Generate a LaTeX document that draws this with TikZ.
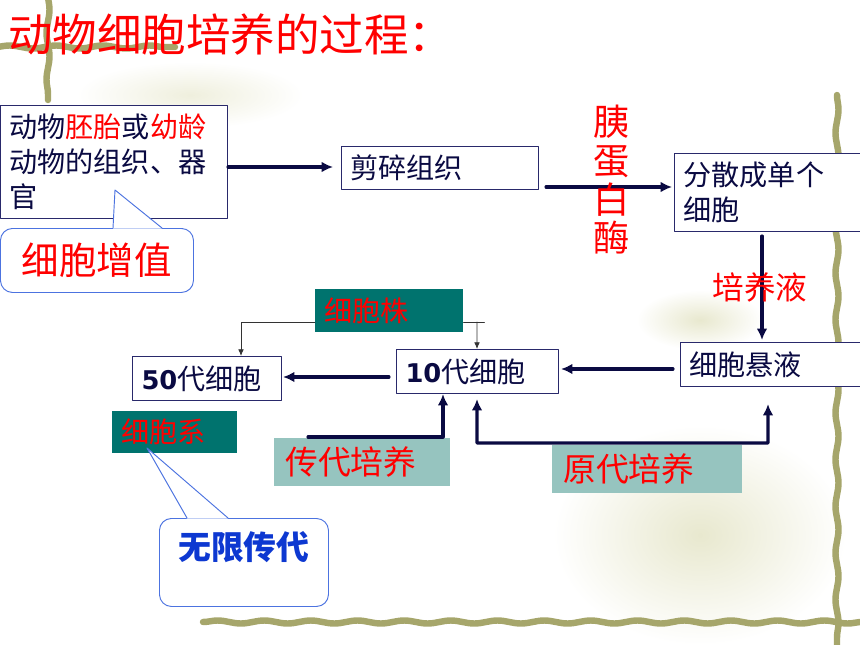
\documentclass[tikz,border=0pt]{standalone}
\usepackage{fontspec}
\newfontfamily\cjk{Noto Sans CJK SC}
\newfontfamily\digits{DejaVu Sans}
\usetikzlibrary{arrows.meta,decorations.pathmorphing}
\definecolor{qqqqtt}{rgb}{0.04,0.04,0.26}
\definecolor{ttttzz}{rgb}{0.16,0.16,0.42}
\definecolor{ffqqqq}{rgb}{1.,0.,0.}
\definecolor{qqttzz}{rgb}{0.,0.45,0.43}
\definecolor{zzccbb}{rgb}{0.59,0.77,0.75}
\definecolor{ttzzff}{rgb}{0.3,0.45,0.88}
\definecolor{qqttee}{rgb}{0.05,0.22,0.82}
\definecolor{zzzztt}{rgb}{0.65,0.65,0.42}
\definecolor{eeeedd}{rgb}{0.91,0.91,0.81}

\begin{document}
\begin{tikzpicture}[line cap=round,line join=round,x=0.03cm,y=-0.03cm,
  stage/.style={draw=ttttzz,line width=0.9pt,fill=white,anchor=north west,inner xsep=0.27cm,inner ysep=0pt,align=left,text=qqqqtt,font=\cjk\fontsize{24}{30}\selectfont},
  tag/.style={fill=qqttzz,anchor=north west,inner xsep=0.27cm,inner ysep=0pt,align=left,text=ffqqqq,font=\cjk\fontsize{24}{30}\selectfont},
  method/.style={fill=zzccbb,anchor=north west,inner xsep=0.33cm,inner ysep=0pt,align=left,text=ffqqqq,font=\cjk\fontsize{28}{34}\selectfont},
  bubble/.style={draw=ttzzff,line width=0.8pt,fill=white,rounded corners=0.36cm,anchor=north west,inner sep=0pt},
  flow/.style={draw=qqqqtt,line width=2.7pt,-{Latex[length=0.34cm,width=0.32cm]}},
  feed/.style={draw=black!80,line width=0.7pt,-{Latex[length=0.2cm,width=0.17cm]}},
  vine/.style={draw=zzzztt,line width=5.5pt,decorate,decoration={snake,amplitude=0.045cm,segment length=1.4cm}}]
\useasboundingbox (0,0) rectangle (860,645);
% background
\shade[inner color=eeeedd,outer color=white] (700,535) ellipse [x radius=4.4cm,y radius=3.3cm];
\shade[inner color=eeeedd,outer color=white] (700,320) ellipse [x radius=1.9cm,y radius=0.9cm];
\shade[inner color=eeeedd!70,outer color=white] (190,95) ellipse [x radius=3.4cm,y radius=1cm];
\draw[vine] (48,-5) -- (48,100);
\draw[vine] (-5,47) -- (175,47);
\draw[vine] (837,95) -- (837,650);
\draw[vine] (203,622) -- (865,622);
% title
\node[anchor=west,inner sep=0pt,text=ffqqqq,font=\cjk\fontsize{38}{44}\selectfont] (title) at (8,35) {动物细胞培养的过程：};
% stages
\node[stage,minimum height=3.39cm,text width=6.27cm] (source) at (0,105) {动物\textcolor{ffqqqq}{胚胎}或\textcolor{ffqqqq}{幼龄}\\动物的组织、器\\官};
\node[stage,minimum height=1.29cm,text width=5.37cm] (mince) at (341,146) {剪碎组织};
\node[stage,minimum height=2.34cm,text width=5.04cm] (single) at (674,153) {分散成单个\\细胞};
\node[stage,minimum height=1.32cm,text width=4.86cm] (susp) at (680,342) {细胞悬液};
\node[stage,minimum height=1.32cm,text width=4.32cm] (ten) at (396,349) {{\digits\bfseries\fontsize{22}{30}\selectfont 10}代细胞};
\node[stage,minimum height=1.32cm,text width=3.93cm] (fifty) at (132,356) {{\digits\bfseries\fontsize{22}{30}\selectfont 50}代细胞};
% tags
\node[tag,minimum height=1.29cm,text width=3.9cm] (strain) at (315,289) {细胞株};
\node[tag,minimum height=1.26cm,text width=3.21cm] (cline) at (112,411) {细胞系};
\node[method,minimum height=1.44cm,text width=4.62cm] (passage) at (274,438) {传代培养};
\node[method,minimum height=1.44cm,text width=5.04cm] (primary) at (552,445) {原代培养};
% callouts
\node[bubble,minimum width=5.79cm,minimum height=1.92cm,text=ffqqqq,font=\cjk\fontsize{32}{38}\selectfont] (grow) at (0,228) {细胞增值};
\node[bubble,minimum width=5.07cm,inner ysep=0.1cm,text height=1.14cm,text depth=1.3cm,text=qqttee,font=\cjk\bfseries\fontsize{28}{34}\selectfont] (endless) at (159,518) {无限传代};
\coordinate (growtip) at (115,190);
\coordinate (endlesstip) at (147,448);
\fill[white] ([xshift=3.39cm,yshift=-0.6pt]grow.north west) -- (growtip) -- ([xshift=4.86cm,yshift=-0.6pt]grow.north west) -- cycle;
\draw[draw=ttzzff,line width=0.8pt] ([xshift=3.39cm]grow.north west) -- (growtip) -- ([xshift=4.86cm]grow.north west);
\fill[white] ([xshift=0.84cm,yshift=-0.6pt]endless.north west) -- (endlesstip) -- ([xshift=2.07cm,yshift=-0.6pt]endless.north west) -- cycle;
\draw[draw=ttzzff,line width=0.8pt] ([xshift=0.84cm]endless.north west) -- (endlesstip) -- ([xshift=2.07cm]endless.north west);
% main flow
\draw[flow,shorten >=0.24cm] (source.east |- 0,167) -- (mince.west |- 0,167);
\draw[flow,shorten <=0.21cm,shorten >=0.06cm] (mince.east |- 0,187) -- (single.west |- 0,187);
\draw[flow,shorten <=0.12cm,shorten >=0.06cm] (single.south -| 762,0) -- (susp.north -| 762,0);
\draw[flow,shorten <=0.21cm,shorten >=0.06cm] (susp.west |- 0,369) -- (ten.east |- 0,369);
\draw[flow,shorten <=0.21cm,shorten >=0.03cm] (ten.west |- 0,377) -- (fifty.east |- 0,377);
\draw[flow] ([xshift=1.02cm,yshift=0.03cm]passage.north west) -| ([xshift=1.41cm]ten.south west);
\draw[flow,{Latex[length=0.34cm,width=0.32cm]}-{Latex[length=0.34cm,width=0.32cm]}] ([xshift=2.43cm,yshift=-0.15cm]ten.south west) |- ([xshift=6.48cm,yshift=0.06cm]primary.north west) -- ([xshift=2.64cm,yshift=-0.51cm]susp.south west);
% strain branches
\coordinate (fork) at (477,322);
\draw[feed] (strain.west |- 0,322) -| ([xshift=3.27cm]fifty.north west);
\draw[draw=black!80,line width=0.7pt] (strain.east |- 0,322) -- ++(21,0);
\draw[feed] (fork) -- ([xshift=2.43cm]ten.north west);
% reagents
\node[align=center,text=ffqqqq,font=\cjk\fontsize{31}{33}\selectfont] (trypsin) at (612,180) {胰\\蛋\\白\\酶};
\node[text=ffqqqq,font=\cjk\fontsize{27}{32}\selectfont] (medium) at (760,287) {培养液};
\end{tikzpicture}
\end{document}
